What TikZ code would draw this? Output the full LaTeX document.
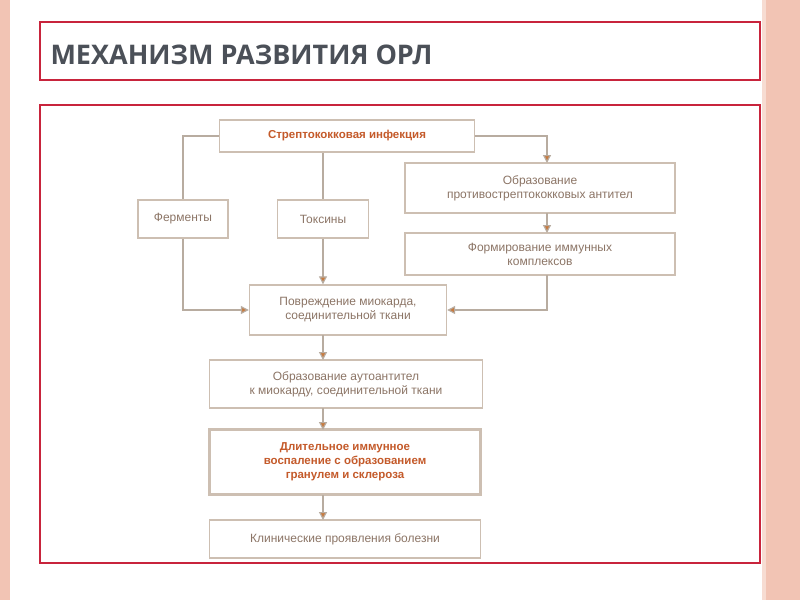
\documentclass[tikz,border=0pt]{standalone}
\usepackage{fontspec}
\setmainfont{Liberation Sans}
\newfontfamily\titlefont{Open Sans}
\usepackage{xcolor}
\usepackage{tikz}
\usetikzlibrary{arrows.meta}
\definecolor{boxline}{HTML}{CDBFB2}
\definecolor{boxtext}{HTML}{8C7566}
\definecolor{tipcol}{HTML}{C87A3E}
\definecolor{hotline}{HTML}{C45A2A}
\definecolor{frame}{HTML}{C8243C}
\definecolor{side}{HTML}{F2C4B4}
\definecolor{titlecol}{HTML}{4B5058}

\begin{document}
\begin{tikzpicture}[x=1pt,y=-1pt,
    blk/.style={draw=boxline, line width=1.4pt, fill=white, text=boxtext, align=center, font=\fontsize{12}{14}\selectfont, inner sep=0pt},
    hot/.style={blk, text=hotline, font=\bfseries\fontsize{11.5}{14}\selectfont},
    link/.style={draw=boxline!90!black, line width=1.2pt},
    arr/.style={link, -{Triangle[length=8pt,width=8pt,fill=tipcol]}}]
    \useasboundingbox (0,0) rectangle (800,600);
    \fill[white] (0,0) rectangle (800,600);
    \fill[side] (0,0) rectangle (10,600);
    \fill[side] (765,0) rectangle (800,600);
    \fill[side!60] (762,0) rectangle (766,600);
    \draw[frame, line width=1.3pt] (40,22) rectangle (760,80);
    \node[anchor=west, text=titlecol, font=\titlefont\bfseries\fontsize{27}{30}\selectfont] (title) at (47,55) {МЕХАНИЗМ РАЗВИТИЯ ОРЛ};
    \draw[frame, line width=1.3pt] (40,105) rectangle (760,563);

    \node[hot, minimum width=255pt, minimum height=32pt] (S) at (347,136) {Стрептококковая инфекция};
    \node[blk, minimum width=90pt, minimum height=38pt] (F) at (183,219) {Ферменты};
    \node[blk, minimum width=91pt, minimum height=38pt] (T) at (323,219) {Токсины};
    \node[blk, minimum width=270pt, minimum height=50pt] (A) at (540,188) {Образование\\противострептококковых антител};
    \node[blk, minimum width=270pt, minimum height=42pt] (K) at (540,254) {Формирование иммунных\\комплексов};
    \node[blk, minimum width=197pt, minimum height=50pt] (P) at (348,310) {Повреждение миокарда,\\соединительной ткани};
    \node[blk, minimum width=273pt, minimum height=48pt] (O) at (346,384) {Образование аутоантител\\к миокарду, соединительной ткани};
    \node[hot, line width=2.2pt, minimum width=271pt, minimum height=65pt] (D) at (345,462) {Длительное иммунное\\воспаление с образованием\\гранулем и склероза};
    \node[blk, minimum width=271pt, minimum height=38pt] (C) at (345,539) {Клинические проявления болезни};

    \draw[link] (S.west) -| (F.north);
    \draw[arr] (F.south) |- (P.west);
    \draw[link] (S.south -| T.north) -- (T.north);
    \draw[arr] (T.south) -- (T.south |- P.north);
    \draw[arr] (S.east) -| (547,163);
    \draw[arr] (547,213) -- (547,233);
    \draw[arr] (547,275) |- (P.east);
    \draw[arr] (323,335) -- (323,360);
    \draw[arr] (323,408) -- (323,430);
    \draw[arr] (323,495) -- (323,520);
\end{tikzpicture}
\end{document}
